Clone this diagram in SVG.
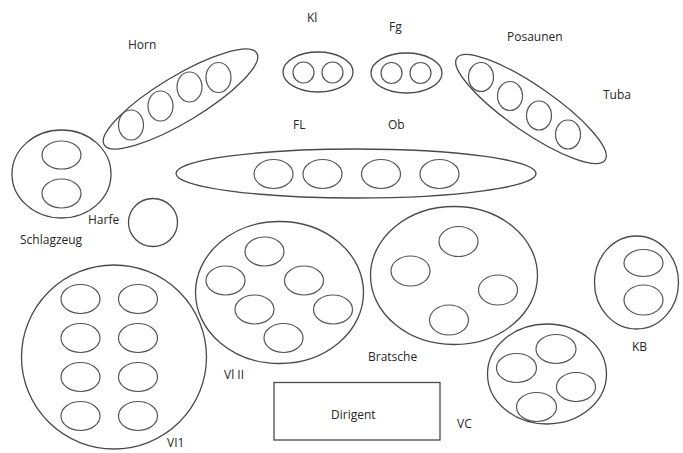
<svg xmlns="http://www.w3.org/2000/svg" width="683" height="453" viewBox="0 0 683 453">
  <style>
    .g { fill: none; stroke: #4a4a4a; stroke-width: 1.3; }
    .s { fill: none; stroke: #555555; stroke-width: 1.2; }
    text { font-family: "Open Sans", "Liberation Sans", sans-serif; font-size: 12px; fill: #262626; }
  </style>
  <rect width="683" height="453" fill="#ffffff"/>

  <!-- Horn -->
  <g id="horn">
    <ellipse class="g" cx="180.5" cy="99" rx="89" ry="23" transform="rotate(-31 180.5 99)"/>
    <ellipse class="s" cx="131" cy="125" rx="12.5" ry="15"/>
    <ellipse class="s" cx="160.5" cy="106" rx="12.5" ry="15"/>
    <ellipse class="s" cx="189.5" cy="87" rx="12.5" ry="15"/>
    <ellipse class="s" cx="218.5" cy="77.5" rx="12.5" ry="15"/>
    <text x="128" y="49">Horn</text>
  </g>

  <!-- Klarinetten -->
  <g id="kl">
    <ellipse class="g" cx="318" cy="72" rx="35" ry="20"/>
    <circle class="s" cx="303.5" cy="72.5" r="10.5"/>
    <circle class="s" cx="332.5" cy="72.5" r="10.5"/>
    <text x="307" y="22">Kl</text>
  </g>

  <!-- Fagotte -->
  <g id="fg">
    <ellipse class="g" cx="406.5" cy="73" rx="35.5" ry="20"/>
    <circle class="s" cx="391.5" cy="73" r="10.5"/>
    <circle class="s" cx="420.5" cy="73" r="10.5"/>
    <text x="389" y="31">Fg</text>
  </g>

  <!-- Posaunen / Tuba -->
  <g id="posaunen">
    <ellipse class="g" cx="531" cy="109" rx="90" ry="23" transform="rotate(34.6 531 109)"/>
    <ellipse class="s" cx="481" cy="77" rx="12.5" ry="14.5"/>
    <ellipse class="s" cx="510" cy="96" rx="12.5" ry="14.5"/>
    <ellipse class="s" cx="539" cy="115.5" rx="12.5" ry="14.5"/>
    <ellipse class="s" cx="568" cy="134.5" rx="12.5" ry="14.5"/>
    <text x="507" y="41">Posaunen</text>
    <text x="603" y="99">Tuba</text>
  </g>

  <!-- Flöten / Oboen -->
  <g id="fl-ob">
    <ellipse class="g" cx="356" cy="173.5" rx="180" ry="24.5"/>
    <ellipse class="s" cx="273.5" cy="174" rx="19.5" ry="14.5"/>
    <ellipse class="s" cx="322.5" cy="174" rx="19.5" ry="14.5"/>
    <ellipse class="s" cx="381" cy="174" rx="19.5" ry="14.5"/>
    <ellipse class="s" cx="439.5" cy="174" rx="19.5" ry="14.5"/>
    <text x="293" y="128.5">FL</text>
    <text x="388" y="128.5">Ob</text>
  </g>

  <!-- Schlagzeug -->
  <g id="schlagzeug">
    <ellipse class="g" cx="61.5" cy="174" rx="49.5" ry="44"/>
    <ellipse class="s" cx="61.5" cy="155" rx="19.5" ry="14"/>
    <ellipse class="s" cx="61.5" cy="193.5" rx="19.5" ry="14.5"/>
    <text x="20" y="244">Schlagzeug</text>
  </g>

  <!-- Harfe -->
  <g id="harfe">
    <ellipse class="g" cx="153" cy="222.5" rx="24.5" ry="24"/>
    <text x="88" y="224">Harfe</text>
  </g>

  <!-- 1. Violinen -->
  <g id="vl1">
    <ellipse class="g" cx="114" cy="357" rx="92.5" ry="92"/>
    <ellipse class="s" cx="80.5" cy="299" rx="19.5" ry="14.5"/>
    <ellipse class="s" cx="138" cy="299" rx="19.5" ry="14.5"/>
    <ellipse class="s" cx="80.5" cy="338" rx="19.5" ry="14.5"/>
    <ellipse class="s" cx="138" cy="338" rx="19.5" ry="14.5"/>
    <ellipse class="s" cx="80.5" cy="377" rx="19.5" ry="14.5"/>
    <ellipse class="s" cx="138" cy="377" rx="19.5" ry="14.5"/>
    <ellipse class="s" cx="80.5" cy="416" rx="19.5" ry="14.5"/>
    <ellipse class="s" cx="138" cy="416" rx="19.5" ry="14.5"/>
    <text x="167" y="447">VI1</text>
  </g>

  <!-- 2. Violinen -->
  <g id="vl2">
    <ellipse class="g" cx="279.5" cy="292.5" rx="84" ry="71"/>
    <ellipse class="s" cx="264.5" cy="251.5" rx="19.5" ry="14.5"/>
    <ellipse class="s" cx="225.5" cy="280.5" rx="19.5" ry="14.5"/>
    <ellipse class="s" cx="304" cy="280.5" rx="19.5" ry="14.5"/>
    <ellipse class="s" cx="254.5" cy="309.5" rx="19.5" ry="14.5"/>
    <ellipse class="s" cx="333" cy="309.5" rx="19.5" ry="14.5"/>
    <ellipse class="s" cx="283.5" cy="338" rx="19.5" ry="14.5"/>
    <text x="224" y="378.5">Vl II</text>
  </g>

  <!-- Bratschen -->
  <g id="bratsche">
    <ellipse class="g" cx="454" cy="275.5" rx="83.5" ry="69"/>
    <ellipse class="s" cx="458.5" cy="241.5" rx="19.5" ry="15"/>
    <ellipse class="s" cx="410.5" cy="271" rx="19.5" ry="15"/>
    <ellipse class="s" cx="498" cy="290" rx="19.5" ry="15"/>
    <ellipse class="s" cx="449" cy="320" rx="19.5" ry="15"/>
    <text x="368" y="361">Bratsche</text>
  </g>

  <!-- Kontrabässe -->
  <g id="kb">
    <ellipse class="g" cx="636.5" cy="282.5" rx="42" ry="46.5"/>
    <ellipse class="s" cx="643.5" cy="263" rx="19.5" ry="13.5"/>
    <ellipse class="s" cx="643.5" cy="300" rx="19.5" ry="15"/>
    <text x="632" y="351">KB</text>
  </g>

  <!-- Violoncelli -->
  <g id="vc">
    <ellipse class="g" cx="547" cy="374" rx="59.5" ry="50"/>
    <ellipse class="s" cx="556" cy="349" rx="20" ry="14.5"/>
    <ellipse class="s" cx="516.5" cy="368" rx="20" ry="14.5"/>
    <ellipse class="s" cx="576" cy="387" rx="19.5" ry="14.5"/>
    <ellipse class="s" cx="536.5" cy="407" rx="20" ry="14.5"/>
    <text x="457" y="428">VC</text>
  </g>

  <!-- Dirigent -->
  <g id="dirigent">
    <rect class="g" x="274" y="382.5" width="166" height="57.5"/>
    <text x="331" y="419">Dirigent</text>
  </g>

  <g id="connectors"/>
</svg>
